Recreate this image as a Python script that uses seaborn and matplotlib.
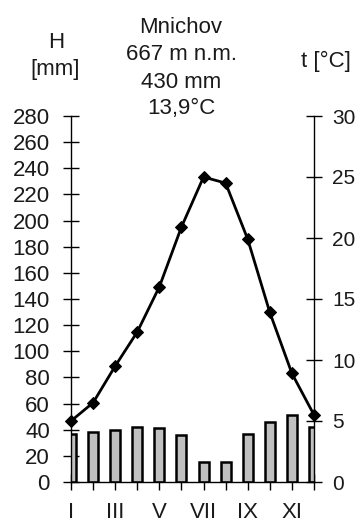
import matplotlib
matplotlib.use('Agg')
import matplotlib.pyplot as plt
import seaborn as sns
import pandas as pd

# data
months = ['I', 'II', 'III', 'IV', 'V', 'VI', 'VII', 'VIII', 'IX', 'X', 'XI', 'XII']
precip = [37, 38, 40, 42, 41, 36, 15, 15, 37, 46, 51, 42]          # mm
temp = [5.0, 6.5, 9.5, 12.3, 16.0, 20.9, 25.0, 24.5, 19.9, 13.9, 8.9, 5.5]  # °C

title_lines = ['Mnichov', '667 m n.m.', '430 mm', '13,9°C']

sns.set_style('ticks')
plt.rcParams['font.family'] = ['Liberation Sans', 'DejaVu Sans']
plt.rcParams['text.color'] = '#1a1a1a'

FS = 16

df = pd.DataFrame({'mesic': months, 'pos': range(12), 'srazky': precip, 'teplota': temp})

fig = plt.figure(figsize=(3.56, 5.23), dpi=100)
ax = fig.add_axes([71 / 356, 41 / 523, 243 / 356, 366 / 523])

# srážky - sloupce
sns.barplot(data=df, x='pos', y='srazky', native_scale=True, width=0.45,
            color='#c0c0c0', edgecolor='black', linewidth=1.8, saturation=1, ax=ax)
ax.set_xlim(0, 11)
ax.set_ylim(0, 280)
ax.set_yticks(range(0, 281, 20))
ax.set_xticks(range(12))
ax.set_xticklabels([m if i % 2 == 0 else '' for i, m in enumerate(months)])
ax.set_xlabel('')
ax.set_ylabel('')

# teplota - čára
ax2 = ax.twinx()
sns.lineplot(data=df, x='pos', y='teplota', color='black', linewidth=2,
             marker='D', markersize=6, markeredgecolor='black', ax=ax2)
for ln in ax2.lines:
    ln.set_clip_on(False)
ax2.set_ylim(0, 30)
ax2.set_yticks(range(0, 31, 5))
ax2.set_xlim(0, 11)
ax2.set_ylabel('')

for a in (ax, ax2):
    a.spines['top'].set_visible(False)
    for s in ('left', 'right', 'bottom'):
        a.spines[s].set_color('black')
        a.spines[s].set_linewidth(1.0)
ax.spines['right'].set_visible(False)
ax2.spines['left'].set_visible(False)
ax2.spines['bottom'].set_visible(False)

ax.tick_params(axis='y', direction='inout', length=11.5, width=1, color='black',
               pad=9.5, labelsize=FS, labelcolor='#1a1a1a')
ax.tick_params(axis='x', direction='inout', length=11.5, width=1, color='black',
               pad=9, labelsize=FS, labelcolor='#1a1a1a')
ax2.tick_params(axis='y', direction='inout', length=11.5, width=1, color='black',
                pad=7.2, labelsize=15, labelcolor='#1a1a1a')

# popisky
title_base = [33, 60, 88, 114]
for txt, yy in zip(title_lines, title_base):
    fig.text(181 / 356, 1 - yy / 523, txt, ha='center', va='baseline', fontsize=FS)
fig.text(56 / 356, 1 - 48 / 523, 'H', ha='center', va='baseline', fontsize=FS)
fig.text(55.5 / 356, 1 - 75 / 523, '[mm]', ha='center', va='baseline', fontsize=FS)
fig.text(325.5 / 356, 1 - 66.5 / 523, 't [°C]', ha='center', va='baseline', fontsize=FS)

fig.savefig('out.png', dpi=100)
